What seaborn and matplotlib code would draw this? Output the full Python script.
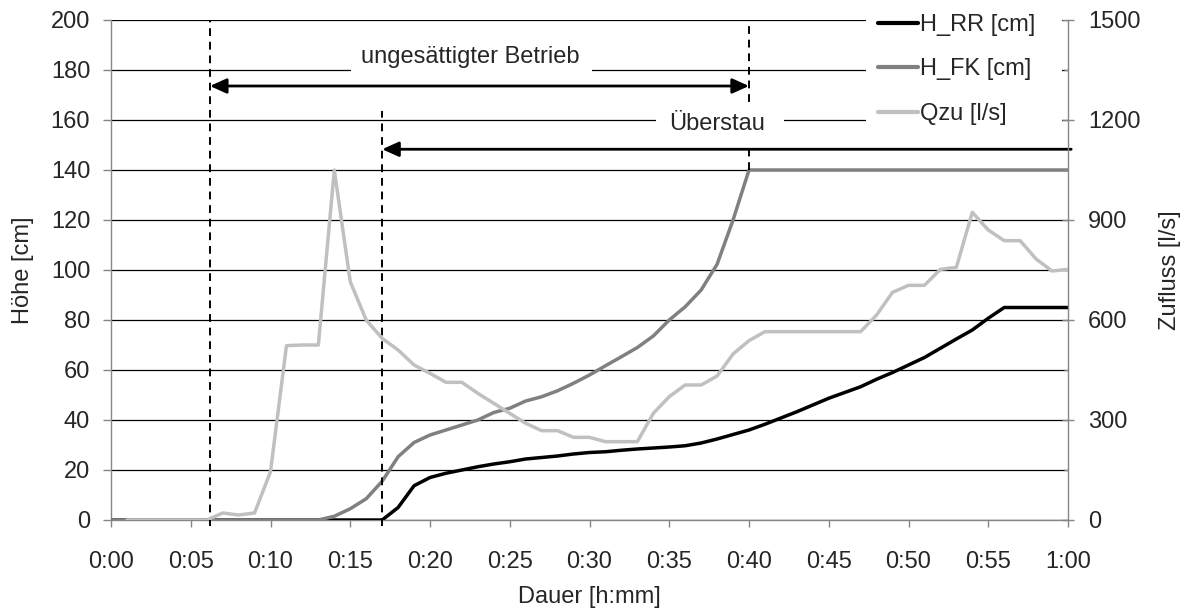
import matplotlib
matplotlib.use("Agg")
import matplotlib.pyplot as plt
import matplotlib.ticker as mticker
from matplotlib.lines import Line2D
from matplotlib.patches import Rectangle
import numpy as np
import pandas as pd
import seaborn as sns

# Time axis in minutes (0:00 ... 1:00)
minutes = list(range(0, 61))
minutes_q = list(range(1, 61))

# Water level in the pipe [cm]
h_rr = [0] * 18 + [
    5, 13.7, 17, 18.7, 20, 21.3, 22.4, 23.3, 24.4, 25,
    25.6, 26.4, 27, 27.3, 27.9, 28.4, 28.8, 29.2, 29.7, 30.8,
    32.4, 34.2, 36, 38.3, 40.8, 43.3, 46, 48.7, 51, 53.3,
    56.3, 59, 62, 65, 68.7, 72.4, 76, 80.7, 85, 85,
    85, 85, 85,
]

# Water level in the shaft [cm]
h_fk = [0] * 14 + [
    1.5, 4.5, 8.5, 15.5, 25.3, 31, 34, 36, 38, 40,
    43, 44.7, 47.6, 49.3, 51.7, 54.7, 58, 61.7, 65.3, 69,
    73.6, 80, 85.3, 92, 102.3, 120,
] + [140] * 21

# Inflow [l/s], minutes 1 ... 60
q_zu = [0] * 6 + [
    21, 15, 21, 145, 523, 525, 525, 1050, 715, 600,
    545, 510, 465, 440, 413, 413, 380, 350, 320, 290,
    268, 268, 248, 248, 235, 235, 235, 320, 370, 405,
    405, 432, 498, 538, 565, 565, 565, 565, 565, 565,
    565, 615, 683, 704, 704, 752, 758, 923, 870, 838,
    838, 783, 747, 752,
]

series_labels = ["H_RR [cm]", "H_FK [cm]", "Qzu [l/s]"]
series_colors = ["#000000", "#808080", "#c0c0c0"]

# Event markers (minutes)
t_unsat_start = 6.2
t_overflow = 17.0
t_full = 40.0

df_h = pd.DataFrame({"t": minutes, "H_RR": h_rr, "H_FK": h_fk})
df_q = pd.DataFrame({"t": minutes_q, "Qzu": q_zu})

sns.set_style("white")
plt.rcParams["font.family"] = ["Liberation Sans", "DejaVu Sans"]
FS = 17
plt.rcParams["font.size"] = FS

W, H = 1189, 614
fig = plt.figure(figsize=(W / 100, H / 100), dpi=100)
ax = fig.add_axes([111 / W, 1 - 520 / H, (1068 - 111) / W, 500 / H])
ax2 = ax.twinx()

lw = 2.5
sns.lineplot(data=df_h, x="t", y="H_RR", ax=ax, color=series_colors[0], lw=lw, zorder=4)
sns.lineplot(data=df_h, x="t", y="H_FK", ax=ax, color=series_colors[1], lw=lw, zorder=5)
sns.lineplot(data=df_q, x="t", y="Qzu", ax=ax2, color=series_colors[2], lw=lw, zorder=3)

# Axes ranges and ticks
ax.set_xlim(0, 60)
ax.set_ylim(0, 200)
ax2.set_ylim(0, 1500)
ax.set_yticks(np.arange(0, 201, 20))
ax2.set_yticks(np.arange(0, 1501, 300))
ax2.yaxis.set_minor_locator(mticker.MultipleLocator(150))
ax.set_xticks(np.arange(0, 61, 5))
ax.xaxis.set_major_formatter(
    mticker.FuncFormatter(lambda m, _: f"{int(m) // 60}:{int(m) % 60:02d}")
)

ax.yaxis.grid(True, color="black", lw=0.9)
ax.xaxis.grid(False)
ax.set_axisbelow(True)

spine_col = "#868686"
for a in (ax, ax2):
    a.spines["top"].set_visible(False)
    for s in ("left", "right", "bottom"):
        a.spines[s].set_color(spine_col)
        a.spines[s].set_linewidth(1.0)
ax.spines["right"].set_visible(False)
ax2.spines["left"].set_visible(False)
ax2.spines["bottom"].set_visible(False)

ax.tick_params(axis="y", direction="out", length=6, width=1, color=spine_col,
               labelsize=FS, pad=9)
ax.tick_params(axis="x", direction="out", length=5, width=1, color=spine_col,
               labelsize=FS, pad=17, bottom=True)
ax2.tick_params(axis="y", which="major", direction="inout", length=9, width=1,
                color=spine_col, labelsize=FS, pad=10, right=True)
ax2.tick_params(axis="y", which="minor", direction="in", length=3, width=1,
                color=spine_col, right=True)

ax.set_xlabel("Dauer [h:mm]", fontsize=FS)
ax.xaxis.set_label_coords(0.5, (520 - 586) / 500)
ax.set_ylabel("Höhe [cm]", fontsize=FS, va="center")
ax.yaxis.set_label_coords((23 - 111) / 957, 0.5)
ax2.set_ylabel("Zufluss [l/s]", fontsize=FS, va="center")
ax2.yaxis.set_label_coords((1170 - 111) / 957, 0.5)

# Phase markers: vertical dashed lines
dash = dict(color="black", lw=1.4, linestyle=(0, (4, 3)), zorder=6, clip_on=False)
ax.plot([t_unsat_start, t_unsat_start], [-2.5, 200], **dash)
ax.plot([t_overflow, t_overflow], [-2.5, 163.5], **dash)
ax.plot([t_full, t_full], [140, 200], **dash)

head = "head_length=1.0,head_width=0.45"

# Unsaturated operation: double arrow with label
ax.add_patch(Rectangle((15.05, 176.8), 15.1, 16.0, facecolor="white",
                       edgecolor="none", zorder=6.5))
ax.annotate("", xy=(t_full, 173.6), xytext=(t_unsat_start, 173.6),
            arrowprops=dict(arrowstyle="<|-|>," + head, color="black", lw=2.0,
                            shrinkA=0, shrinkB=0, mutation_scale=10),
            zorder=7)
ax.text(22.5, 185.3, "ungesättigter Betrieb", ha="center", va="center",
        fontsize=FS, zorder=7)

# Overflow: arrow pointing back to its start, with label
ax.add_patch(Rectangle((34.17, 150.8), 8.02, 15.6, facecolor="white",
                       edgecolor="none", zorder=6.5))
ax.annotate("", xy=(t_overflow, 148.3), xytext=(60.2, 148.3),
            arrowprops=dict(arrowstyle="-|>," + head, color="black", lw=2.0,
                            shrinkA=0, shrinkB=0, mutation_scale=10),
            zorder=7, annotation_clip=False)
ax.text(38.0, 158.6, "Überstau", ha="center", va="center", fontsize=FS, zorder=7)

# Legend
handles = [Line2D([0], [0], color=c, lw=3) for c in series_colors]
leg = ax2.legend(handles, series_labels, loc="upper left",
                 bbox_to_anchor=(866 / W, 1 - 2 / H, (1062 - 866) / W, 1e-9),
                 bbox_transform=fig.transFigure, mode="expand",
                 frameon=True, facecolor="white", edgecolor="none", framealpha=1,
                 fancybox=False, fontsize=FS, handlelength=1.7, handletextpad=0.1,
                 labelspacing=0.96, borderpad=0.5, borderaxespad=0)
leg.set_zorder(10)

fig.savefig("out.png", dpi=100)
